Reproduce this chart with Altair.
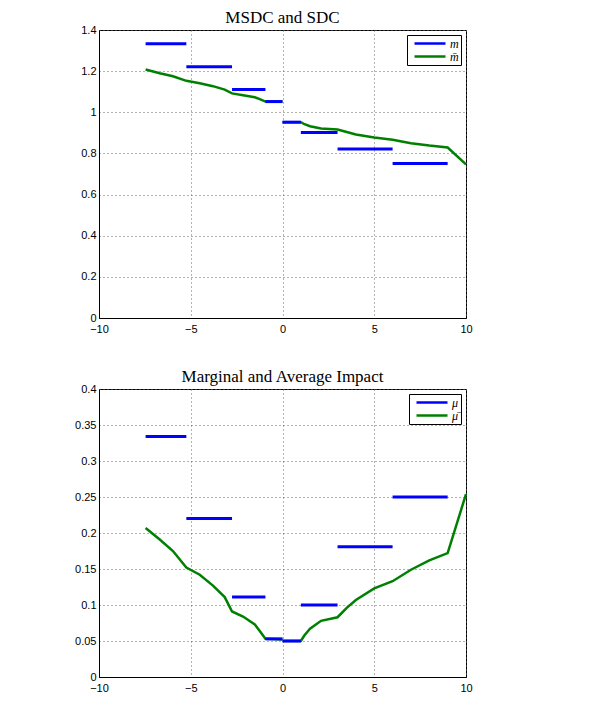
import altair as alt
import pandas as pd

# ---- data ----
seg_start = [-7.46, -5.24, -2.75, -0.93, 0.0, 1.0, 3.0, 6.0]
seg_end = [-5.24, -2.75, -0.93, 0.0, 1.0, 3.0, 6.0, 9.0]
m_vals = [1.333, 1.221, 1.111, 1.052, 0.952, 0.902, 0.821, 0.751]
mu_vals = [0.334, 0.220, 0.111, 0.053, 0.050, 0.100, 0.181, 0.250]

neg_x = [-7.46, -6.69, -5.97, -5.24, -4.51, -3.79, -3.15, -2.75, -2.15, -1.51, -1.24, -0.93, 0.0]
mbar_neg = [1.208, 1.190, 1.175, 1.153, 1.141, 1.127, 1.110, 1.092, 1.083, 1.073, 1.064, 1.052, 1.052]
mubar_neg = [0.207, 0.191, 0.175, 0.152, 0.142, 0.127, 0.111, 0.091, 0.084, 0.073, 0.064, 0.053, 0.052]

pos_x = [0.0, 1.0, 1.2, 1.5, 2.1, 3.0, 3.5, 4.0, 5.0, 6.0, 7.0, 8.0, 9.0, 10.0]
mbar_pos = [0.952, 0.952, 0.942, 0.932, 0.921, 0.916, 0.904, 0.892, 0.877, 0.866, 0.850, 0.838, 0.829, 0.747]
mubar_pos = [0.050, 0.050, 0.058, 0.067, 0.078, 0.083, 0.096, 0.107, 0.123, 0.133, 0.149, 0.162, 0.172, 0.254]

x_ticks = [-10, -5, 0, 5, 10]
top_ticks = [0, 0.2, 0.4, 0.6, 0.8, 1, 1.2, 1.4]
bot_ticks = [0, 0.05, 0.1, 0.15, 0.2, 0.25, 0.3, 0.35, 0.4]

top_labels = ["m", "m\u0304"]
bot_labels = ["\u03bc", "\u03bc\u0304"]

BLUE = "#0000ff"
GREEN = "#008000"


def panel(title, ymax, yticks, labels, seg_vals, neg_vals, pos_vals):
    seg_df = pd.DataFrame({"x": seg_start, "x2": seg_end, "y": seg_vals})
    seg_df["series"] = labels[0]
    line_df = pd.concat([
        pd.DataFrame({"x": neg_x, "y": neg_vals, "branch": "neg"}),
        pd.DataFrame({"x": pos_x, "y": pos_vals, "branch": "pos"}),
    ])
    line_df["series"] = labels[1]

    color = alt.Color(
        "series:N",
        scale=alt.Scale(domain=labels, range=[BLUE, GREEN]),
        sort=labels,
        legend=alt.Legend(
            title=None, orient="top-right", offset=5,
            strokeColor="black", fillColor="white", padding=2,
            cornerRadius=0,
            symbolType="M-1,0L5.2,0", symbolSize=100, symbolStrokeWidth=2.5,
            symbolOffset=4,
            labelFont="Liberation Serif", labelFontStyle="italic",
            labelFontSize=12, labelOffset=24, rowPadding=0,
        ),
    )
    xscale = alt.Scale(domain=[-10, 10], nice=False, zero=False)
    xaxis = alt.Axis(values=x_ticks, title=None, labelFlush=False, labelPadding=5)
    yscale = alt.Scale(domain=[0, ymax], nice=False)
    yaxis = alt.Axis(values=yticks, title=None, format="~g", labelPadding=3)

    lines = alt.Chart(line_df).mark_line(strokeWidth=2.5).encode(
        x=alt.X("x:Q", scale=xscale, axis=xaxis),
        y=alt.Y("y:Q", scale=yscale, axis=yaxis),
        detail="branch:N",
        color=color,
    )
    rules = alt.Chart(seg_df).mark_rule(strokeWidth=3).encode(
        x=alt.X("x:Q", scale=xscale, axis=xaxis),
        x2="x2:Q",
        y=alt.Y("y:Q", scale=yscale, axis=yaxis),
        color=color,
    )
    return alt.layer(lines, rules).properties(
        width=367, height=288,
        title=alt.TitleParams(title, offset=-3),
    )


top = panel("MSDC and SDC", 1.4, top_ticks, top_labels, m_vals, mbar_neg, mbar_pos)
bottom = panel("Marginal and Average Impact", 0.4, bot_ticks, bot_labels,
               mu_vals, mubar_neg, mubar_pos)

chart = (
    alt.vconcat(top, bottom, spacing=32)
    .resolve_scale(color="independent")
    .properties(padding={"left": 66, "top": 0, "right": 5, "bottom": 5})
    .configure_view(stroke="black", strokeWidth=1)
    .configure_axis(
        labelFont="Liberation Sans", labelFontSize=11, labelColor="black",
        domainColor="black", ticks=False, grid=True,
        gridColor="#666666", gridDash=[1, 3], gridWidth=1,
    )
    .configure_title(font="Liberation Serif", fontSize=17, fontWeight="normal",
                     color="black")
)

chart.save("out.html", embed_options={"renderer": "svg", "actions": False})
